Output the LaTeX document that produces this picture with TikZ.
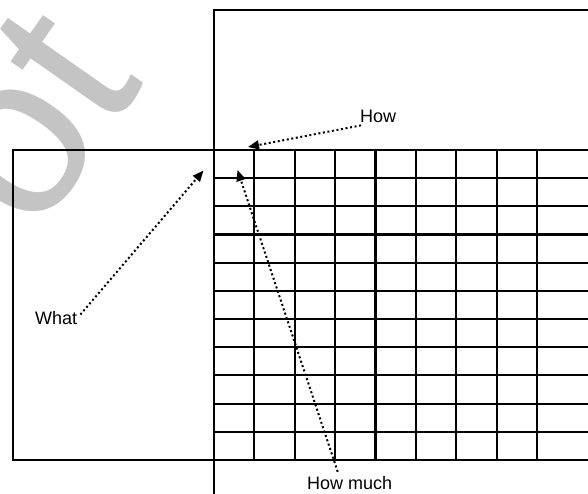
\documentclass[tikz,border=0pt]{standalone}
\usepackage{fontspec}
\setmainfont{Liberation Sans}
\usetikzlibrary{arrows.meta}
\definecolor{wmgray}{HTML}{C4C4C4}
\begin{document}
\begin{tikzpicture}[x=1pt,y=-1pt,
  frameline/.style={line width=2.1pt},
  gridline/.style={line width=2.1pt},
  label/.style={anchor=base west, inner sep=0pt, font=\fontsize{18}{21}\selectfont},
  dotarrow/.style={line width=2pt, dash pattern=on 2pt off 2.6pt,
    -{Triangle[length=11pt,width=9pt]}},
  watermark/.style={text=wmgray, rotate=55, anchor=base west, inner sep=0pt,
    font=\fontsize{230}{230}\selectfont}]
\useasboundingbox (0,0) rectangle (588,494);
\clip (0,0) rectangle (588,494);
% watermark
\node[watermark] (wm) at (35,239) {ot};
% frames
\draw[frameline] (590,10) -- (214,10) -- (214,496);
\draw[frameline] (590,150) -- (13,150) -- (13,460) -- (590,460);
% grid
\foreach \k in {1,...,10} {
  \draw[gridline] (214,{150+\k*28.18}) -- (590,{150+\k*28.18});
}
\foreach \k in {1,...,8} {
  \draw[gridline] ({214+\k*40.375},150) -- ({214+\k*40.375},460);
}
% labels
\node[label] (how) at (360,123) {How};
\node[label] (what) at (35,324) {What};
\node[label] (howmuch) at (307,489) {How much};
% arrow tips
\coordinate (howtip) at (248,147);
\coordinate (whattip) at (203.5,170.5);
\coordinate (howmuchtip) at (237.5,170);
\draw[dotarrow] ([xshift=1pt,yshift=-2pt]how.south west) -- (howtip);
\draw[dotarrow] ([xshift=3pt,yshift=3pt]what.east) -- (whattip);
\draw[dotarrow] ([xshift=-12pt,yshift=4pt]howmuch.north) -- (howmuchtip);
\end{tikzpicture}
\end{document}
